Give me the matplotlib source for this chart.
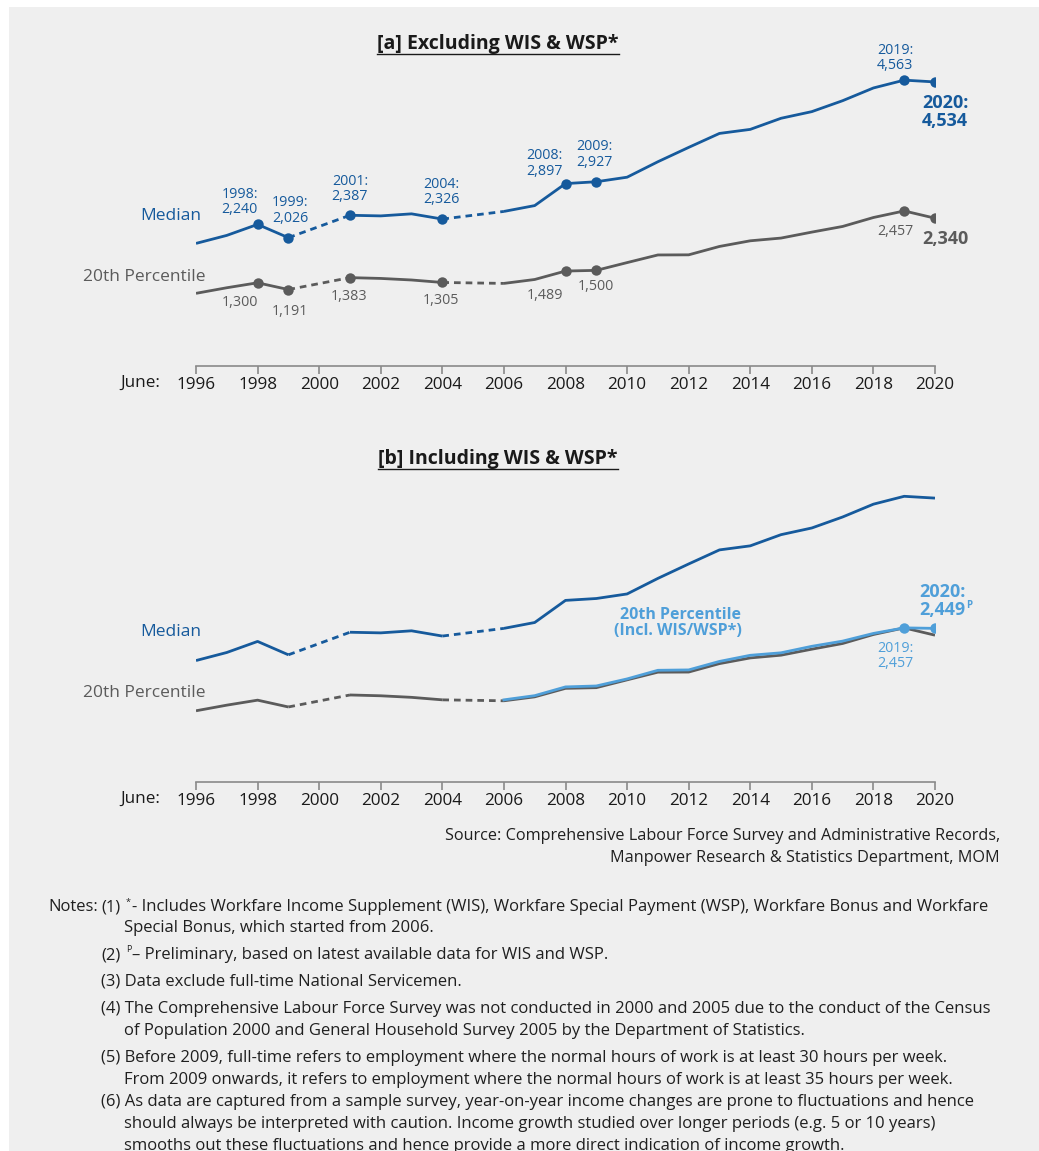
import matplotlib
matplotlib.use("Agg")
import matplotlib.pyplot as plt
from matplotlib.patches import Rectangle
from matplotlib.lines import Line2D

W, H, DPI = 1039, 1151, 100
plt.rcParams['font.family'] = ['Open Sans', 'DejaVu Sans']

# ---------------- data ----------------
years = [1996, 1997, 1998, 1999, 2001, 2002, 2003, 2004,
         2006, 2007, 2008, 2009, 2010, 2011, 2012, 2013, 2014,
         2015, 2016, 2017, 2018, 2019, 2020]
median = [1934, 2063, 2240, 2026, 2387, 2377, 2410, 2326,
          2449, 2543, 2897, 2927, 3000, 3249, 3480, 3705, 3770,
          3949, 4056, 4232, 4437, 4563, 4534]
p20 = [1130, 1220, 1300, 1191, 1383, 1370, 1345, 1305,
       1290, 1353, 1489, 1500, 1625, 1748, 1750, 1885, 1976,
       2020, 2116, 2207, 2351, 2457, 2340]
years_incl = [2006, 2007, 2008, 2009, 2010, 2011, 2012, 2013,
              2014, 2015, 2016, 2017, 2018, 2019, 2020]
p20_incl = [1305, 1372, 1512, 1527, 1640, 1778, 1784, 1920,
            2018, 2058, 2162, 2245, 2368, 2457, 2449]
xticks = list(range(1996, 2021, 2))
marked_years = [1998, 1999, 2001, 2004, 2008, 2009, 2019, 2020]

BLUE = '#165a9c'
GREY = '#5b5b5b'
LBLUE = '#4f9fd9'
BG = '#efefef'

fig = plt.figure(figsize=(W / DPI, H / DPI), dpi=DPI, facecolor='white')
fig.patches.append(Rectangle((9 / W, 0), 1 - 9 / W, 1 - 7 / H,
                             transform=fig.transFigure, facecolor=BG,
                             edgecolor='none', zorder=-10))


def fx(px):
    return px / W


def fy(py):
    return 1 - py / H


def draw_series(ax, xs, vs, color, lw=2.0, zorder=3):
    # solid runs of consecutive years, dashed across survey gaps
    run_x, run_v = [xs[0]], [vs[0]]
    for i in range(1, len(xs)):
        if xs[i] - xs[i - 1] > 1:
            ax.plot(run_x, run_v, color=color, lw=lw, zorder=zorder,
                    solid_capstyle='butt')
            ax.plot([xs[i - 1], xs[i]], [vs[i - 1], vs[i]], color=color,
                    lw=lw, ls=(0, (2.4, 1.8)), zorder=zorder,
                    dash_capstyle='butt')
            run_x, run_v = [xs[i]], [vs[i]]
        else:
            run_x.append(xs[i])
            run_v.append(vs[i])
    ax.plot(run_x, run_v, color=color, lw=lw, zorder=zorder,
            solid_capstyle='butt')


def setup_axes(ax, ylim):
    ax.set_facecolor('none')
    ax.set_xlim(1996, 2020)
    ax.set_ylim(*ylim)
    for s in ('left', 'top', 'right'):
        ax.spines[s].set_visible(False)
    ax.spines['bottom'].set_color('#8a8a8a')
    ax.spines['bottom'].set_linewidth(1.2)
    ax.set_yticks([])
    ax.set_xticks(xticks)
    ax.set_xticklabels([str(t) for t in xticks])
    ax.tick_params(axis='x', length=6, width=1.2, color='#8a8a8a',
                   labelsize=12.3, labelcolor='#1a1a1a', pad=2)
    ax.annotate('June:', xy=(0, 0), xycoords='axes fraction',
                xytext=(-36, -17), textcoords='offset pixels',
                ha='right', va='center', fontsize=12.3, color='#1a1a1a')


def lab(ax, x, y, s, dx, dy, color, size=10.3, ha='center', va='bottom',
        weight='normal', ls=1.05):
    ax.annotate(s, xy=(x, y), xytext=(dx, dy), textcoords='offset pixels',
                ha=ha, va=va, fontsize=size, color=color, weight=weight,
                linespacing=ls, multialignment=ha if ha != 'center' else 'center',
                zorder=6)


# ---------------- panel a ----------------
axa = fig.add_axes([fx(196), fy(366), fx(935) - fx(196), fy(53) - fy(366)])
setup_axes(axa, (-40, 5000))
draw_series(axa, years, median, BLUE)
draw_series(axa, years, p20, GREY)
mx = [y for y in years if y in marked_years]
axa.plot(mx, [median[years.index(y)] for y in mx], 'o', color=BLUE, ms=7.5,
         zorder=5, mec='none')
axa.plot(mx, [p20[years.index(y)] for y in mx], 'o', color=GREY, ms=7.5,
         zorder=5, mec='none')


def mval(y):
    return median[years.index(y)]


def pval(y):
    return p20[years.index(y)]


def fmt(v):
    return f"{v:,}"


med_offsets = {1998: (-18, 7), 1999: (2, 12), 2001: (0, 11), 2004: (-1, 12),
               2008: (-21, 5), 2009: (-2, 12), 2019: (-9, 7)}
for y, (dx, dy) in med_offsets.items():
    lab(axa, y, mval(y), f"{y}:\n{fmt(mval(y))}", dx, dy, BLUE)
lab(axa, 2020, mval(2020), f"2020:\n{fmt(mval(2020))}", 10, -12, BLUE,
    size=13, va='top', weight='bold', ls=1.0)

p_offsets = {1998: (-18, -12), 1999: (2, -14), 2001: (-1, -11), 2004: (-1, -11),
             2008: (-21, -17), 2009: (0, -9), 2019: (-9, -13)}
for y, (dx, dy) in p_offsets.items():
    lab(axa, y, pval(y), fmt(pval(y)), dx, dy, GREY, va='top')
lab(axa, 2020, pval(2020), fmt(pval(2020)), 10, -12, GREY, size=13,
    va='top', weight='bold')

lab(axa, 1996, median[0], 'Median', 5, 27, BLUE, size=12.5, ha='right',
    va='center')
lab(axa, 1996, p20[0], '20th Percentile', 9, 16, GREY, size=12.5,
    ha='right', va='center')

# ---------------- panel b ----------------
axb = fig.add_axes([fx(196), fy(782), fx(935) - fx(196), fy(469) - fy(782)])
setup_axes(axb, (-10, 5000))
draw_series(axb, years, median, BLUE)
draw_series(axb, years, p20, GREY)
axb.plot(years_incl, p20_incl, color=LBLUE, lw=2.0, zorder=4)
axb.plot(years_incl[-2:], p20_incl[-2:], 'o', color=LBLUE, ms=7.5,
         zorder=5, mec='none')

lab(axb, 1996, median[0], 'Median', 5, 29, BLUE, size=12.5, ha='right',
    va='center')
lab(axb, 1996, p20[0], '20th Percentile', 9, 18, GREY, size=12.5,
    ha='right', va='center')
i13 = years_incl.index(2013)
lab(axb, 2013, p20_incl[i13], '20th Percentile\n(Incl. WIS/WSP*)', 22, 22,
    LBLUE, size=11.5, ha='right', weight='bold', ls=1.0)
lab(axb, 2020, p20_incl[-1], f"2020:\n{fmt(p20_incl[-1])}", 7, 9, LBLUE,
    size=13, weight='bold', ls=1.0)
axb.annotate('P', xy=(2020, p20_incl[-1]), xytext=(31, 17),
             textcoords='offset pixels', fontsize=7, color=LBLUE,
             weight='bold', ha='left', va='bottom')
lab(axb, 2019, p20_incl[-2], f"2019:\n{fmt(p20_incl[-2])}", -9, -13, LBLUE,
    va='top')

# ---------------- titles with underline ----------------
t1 = fig.text(fx(498), fy(44), '[a] Excluding WIS & WSP*', ha='center',
              va='center', fontsize=14, weight='bold', color='#1a1a1a')
t2 = fig.text(fx(498), fy(459), '[b] Including WIS & WSP*', ha='center',
              va='center', fontsize=14, weight='bold', color='#1a1a1a')
fig.canvas.draw()
r = fig.canvas.get_renderer()
for t, uy in ((t1, 54), (t2, 469)):
    bb = t.get_window_extent(r)
    fig.add_artist(Line2D([bb.x0 / W, bb.x1 / W], [fy(uy), fy(uy)],
                          transform=fig.transFigure, color='#1a1a1a', lw=1.0))

# ---------------- source & notes ----------------
TXT = '#1f1f1f'
fig.text(fx(1000), fy(836), 'Source: Comprehensive Labour Force Survey and Administrative Records,',
         ha='right', va='center', fontsize=11.7, color=TXT)
fig.text(fx(1000), fy(858), 'Manpower Research & Statistics Department, MOM',
         ha='right', va='center', fontsize=11.7, color=TXT)

NS = 12
fig.text(fx(48), fy(907), 'Notes:', ha='left', va='center', fontsize=NS, color=TXT)
items = [
    (907, '(1)', '*', '- Includes Workfare Income Supplement (WIS), Workfare Special Payment (WSP), Workfare Bonus and Workfare'),
    (955, '(2)', 'P', '– Preliminary, based on latest available data for WIS and WSP.'),
]
for yy, num, sup, rest in items:
    fig.text(fx(101), fy(yy), num, ha='left', va='center', fontsize=NS, color=TXT)
    fig.text(fx(126), fy(yy - 5), sup, ha='left', va='center', fontsize=6.5, color=TXT)
    fig.text(fx(132), fy(yy), rest, ha='left', va='center', fontsize=NS, color=TXT)
fig.text(fx(124), fy(928), 'Special Bonus, which started from 2006.', ha='left',
         va='center', fontsize=NS, color=TXT)
plain = [
    (982, '(3) Data exclude full-time National Servicemen.', 101),
    (1009, '(4) The Comprehensive Labour Force Survey was not conducted in 2000 and 2005 due to the conduct of the Census', 101),
    (1031, 'of Population 2000 and General Household Survey 2005 by the Department of Statistics.', 124),
    (1058, '(5) Before 2009, full-time refers to employment where the normal hours of work is at least 30 hours per week.', 101),
    (1080, 'From 2009 onwards, it refers to employment where the normal hours of work is at least 35 hours per week.', 124),
    (1102, '(6) As data are captured from a sample survey, year-on-year income changes are prone to fluctuations and hence', 101),
    (1124, 'should always be interpreted with caution. Income growth studied over longer periods (e.g. 5 or 10 years)', 124),
    (1146, 'smooths out these fluctuations and hence provide a more direct indication of income growth.', 124),
]
for yy, s, xx in plain:
    fig.text(fx(xx), fy(yy), s, ha='left', va='center', fontsize=NS, color=TXT)

fig.savefig('out.png', dpi=DPI, facecolor='white')
